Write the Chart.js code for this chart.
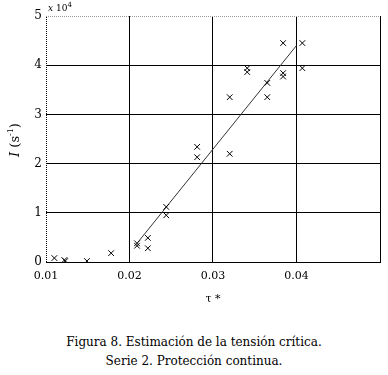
<!DOCTYPE html>
<html>
<head>
<meta charset="utf-8">
<script src="https://cdn.jsdelivr.net/npm/chart.js@4"></script>
<style>
  body { margin: 0; background: #fff; }
  #wrap { position: relative; width: 388px; height: 375px; font-family: "DejaVu Serif", "Liberation Serif", serif; }
  #box { position: absolute; left: 0; top: 0; width: 388px; height: 310px; }
  #ylab { position: absolute; left: 14px; top: 140px; transform: translate(-50%, -50%) rotate(-90deg); font-size: 13px; white-space: nowrap; }
  #mult { position: absolute; left: 48px; top: 1px; font-size: 9px; }
  #cap { position: absolute; left: 0; top: 333px; width: 388px; text-align: center; font-size: 12px; line-height: 19px; }
</style>
</head>
<body>
<div id="wrap">
  <div id="box"><canvas id="tensionChart"></canvas></div>
  <div id="ylab"><i>I</i> (s<sup style="font-size:8px">-1</sup>)</div>
  <div id="mult"><i>x</i> 10<sup style="font-size:7px">4</sup></div>
  <div id="cap">Figura 8. Estimación de la tensión crítica.<br>Serie 2. Protección continua.</div>
</div>
<script>
// measured points: tau* and I (x 10^4 s^-1)
const tauVals = [0.0110, 0.0122, 0.0123, 0.0149, 0.0178, 0.0209, 0.0209, 0.0222, 0.0222,
    0.0244, 0.0244, 0.0281, 0.0281, 0.0320, 0.0320, 0.0341, 0.0341, 0.0365, 0.0365,
    0.0384, 0.0384, 0.0384, 0.0407, 0.0407];
const rateVals = [0.08, 0.04, 0.02, 0.02, 0.18, 0.38, 0.33, 0.49, 0.28,
    1.12, 0.95, 2.34, 2.13, 3.35, 2.20, 3.94, 3.86, 3.64, 3.35,
    3.84, 3.77, 4.45, 4.45, 3.94];
// fitted line ends
const fitTau = [0.0210, 0.0400];
const fitRate = [0.40, 4.40];

const xTicks = [0.01, 0.02, 0.03, 0.04, 0.05];
const yTicks = [0, 1, 2, 3, 4, 5];

const pts = tauVals.map((t, i) => ({x: t, y: rateVals[i]}));
const fit = fitTau.map((t, i) => ({x: t, y: fitRate[i]}));

// dotted left/top frame like the original
const framePlugin = {
    id: 'frame',
    beforeDatasetsDraw(chart) {
        const a = chart.chartArea, c = chart.ctx;
        c.save();
        c.lineWidth = 1;
        c.setLineDash([1, 1]);
        c.strokeStyle = '#000';
        c.beginPath();
        c.moveTo(a.left + 0.5, a.bottom);
        c.lineTo(a.left + 0.5, a.top);
        c.stroke();
        c.strokeStyle = '#999';
        c.beginPath();
        c.moveTo(a.left, a.top + 0.5);
        c.lineTo(a.right, a.top + 0.5);
        c.stroke();
        c.restore();
    }
};

const serif = "'DejaVu Serif', 'Liberation Serif', serif";

new Chart(document.getElementById('tensionChart'), {
    type: 'scatter',
    data: {
        datasets: [
            {data: pts, pointStyle: 'crossRot', radius: 4, hoverRadius: 4,
             borderColor: '#000', backgroundColor: '#000', borderWidth: 1},
            {type: 'line', data: fit, borderColor: '#333', borderWidth: 1,
             pointRadius: 0, fill: false}
        ]
    },
    options: {
        responsive: true,
        maintainAspectRatio: false,
        animation: false,
        layout: {padding: {top: 16, right: 7, left: 0, bottom: 0}},
        plugins: {legend: {display: false}, tooltip: {enabled: false}},
        scales: {
            x: {
                type: 'linear', min: 0.01, max: 0.05,
                afterBuildTicks: s => { s.ticks = xTicks.map(v => ({value: v})); },
                afterFit: s => { s.height = 48; },
                ticks: {
                    color: '#000', padding: 8,
                    font: {family: serif, size: 11},
                    callback: v => v >= 0.05 ? '' : v.toFixed(2)
                },
                grid: {
                    drawTicks: false, lineWidth: 1,
                    color: c => c.tick && Math.abs(c.tick.value - 0.01) < 1e-6 ? 'rgba(0,0,0,0)' : '#000'
                },
                border: {display: true, color: '#000', width: 1},
                title: {display: true, text: 'τ *', color: '#000', padding: {top: 4},
                        font: {family: serif, size: 11}}
            },
            y: {
                min: 0, max: 5,
                afterBuildTicks: s => { s.ticks = yTicks.map(v => ({value: v})); },
                afterFit: s => { s.width = 46; },
                ticks: {color: '#000', padding: 4, font: {family: serif, size: 12}},
                grid: {
                    drawTicks: false, lineWidth: 1,
                    color: c => c.tick && (c.tick.value === 5 || c.tick.value === 0) ? 'rgba(0,0,0,0)' : '#000'
                },
                border: {display: false}
            }
        }
    },
    plugins: [framePlugin]
});
</script>
</body>
</html>
